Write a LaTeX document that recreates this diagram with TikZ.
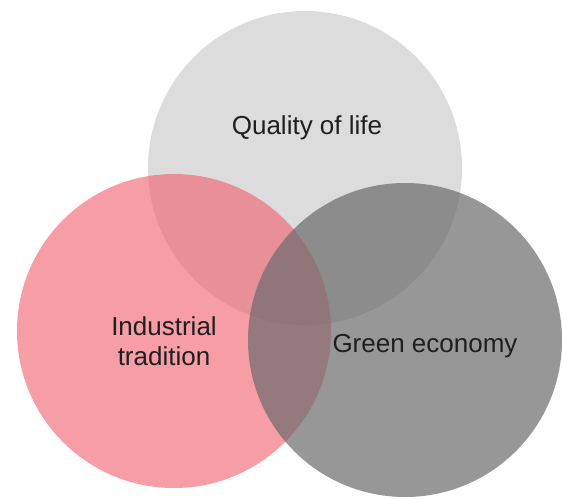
\documentclass[tikz,border=0pt]{standalone}
\usepackage{fontspec}
\setmainfont{Liberation Sans}
\usepackage{tikz}
\usetikzlibrary{positioning}
\definecolor{vennlight}{RGB}{220,220,220}
\definecolor{vennpink}{RGB}{242,92,105}
\definecolor{venndark}{RGB}{108,108,108}

\begin{document}
\begin{tikzpicture}[x=1pt,y=-1pt,
  venn/.style={circle,minimum size=314pt,inner sep=0pt},
  label/.style={font=\fontsize{26}{30}\selectfont,text=black!88,align=center}]
\useasboundingbox (0,0) rectangle (562,498);

% Circles
\node[venn,fill=vennlight] (quality) at (305,168) {};
\node[venn,fill=vennpink,fill opacity=0.6] (industry) at (174,331) {};
\node[venn,fill=venndark,fill opacity=0.71] (green) at (405,340) {};

% Labels
\node[label] (qualitytext) at (307,128) {Quality of life};
\node[label] (industrytext) at (164,341) {Industrial\\tradition};
\node[label] (greentext) at (425,346) {Green economy};
\end{tikzpicture}
\end{document}
